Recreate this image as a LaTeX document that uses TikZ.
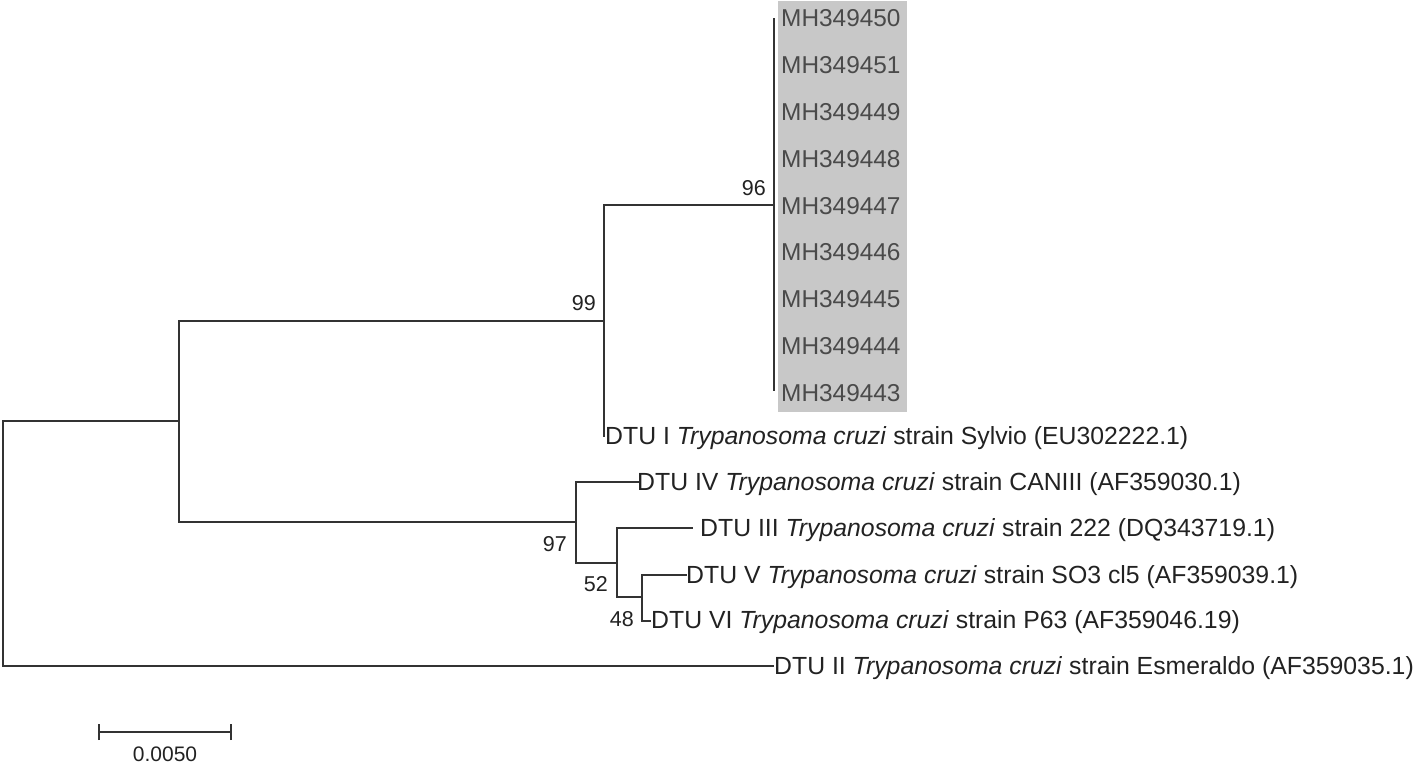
\documentclass[tikz,border=0pt]{standalone}
\usepackage{fontspec}
\setmainfont{Liberation Sans}
\definecolor{branch}{HTML}{333333}
\definecolor{labtext}{HTML}{222222}
\definecolor{mhtext}{HTML}{4A4A4A}
\definecolor{boxgray}{HTML}{C8C8C8}
\tikzset{
  br/.style={draw=branch, line width=2.5pt, line cap=rect},
  leaf/.style={anchor=base west, inner sep=0pt, text=labtext, font=\fontsize{24.8}{29}\selectfont},
  mh/.style={anchor=base west, inner sep=0pt, text=mhtext, font=\fontsize{24.4}{29}\selectfont},
  boot/.style={anchor=base east, inner sep=0pt, text=labtext, font=\fontsize{21.5}{26}\selectfont},
}
\begin{document}
\begin{tikzpicture}[x=1pt,y=-1pt]
\useasboundingbox (0,0) rectangle (1418,764);
% gray box
\fill[boxgray] (778,1) rectangle (907,412);
% internal nodes
\coordinate (R) at (3,543);
\coordinate (A) at (179,421);
\coordinate (B) at (604,321);
\coordinate (C) at (774,205);
\coordinate (D) at (576,522);
\coordinate (E) at (617,563);
\coordinate (F) at (642,597);
% leaf tips
\coordinate (tI) at (604,436);
\coordinate (tIV) at (638,482);
\coordinate (tIII) at (692,528);
\coordinate (tV) at (686,575);
\coordinate (tVI) at (650,621);
\coordinate (tII) at (773,666);
\coordinate (mtop) at (774,19);
\coordinate (mbot) at (774,390);
% MH labels
\foreach \n [count=\k from 0] in {MH349450,MH349451,MH349449,MH349448,MH349447,MH349446,MH349445,MH349444,MH349443}{
  \node[mh] (m\k) at (781,26.8+46.8*\k) {\n};
}
% leaf labels
\node[leaf] (lI) at (605,444) {DTU I \textit{Trypanosoma cruzi} strain Sylvio (EU302222.1)};
\node[leaf] (lIV) at (637,490) {DTU IV \textit{Trypanosoma cruzi} strain CANIII (AF359030.1)};
\node[leaf] (lIII) at (700,536) {DTU III \textit{Trypanosoma cruzi} strain 222 (DQ343719.1)};
\node[leaf] (lV) at (686,583) {DTU V \textit{Trypanosoma cruzi} strain SO3 cl5 (AF359039.1)};
\node[leaf] (lVI) at (651,628) {DTU VI \textit{Trypanosoma cruzi} strain P63 (AF359046.19)};
\node[leaf] (lII) at (774,674) {DTU II \textit{Trypanosoma cruzi} strain Esmeraldo (AF359035.1)};
% branches
\draw[br] (A) -| (R) |- (tII);
\draw[br] (B) -| (A) |- (D);
\draw[br] (C) -| (B) |- (tI);
\draw[br] (mtop) -- (mbot);
\draw[br] (tIV) -| (D) |- (E);
\draw[br] (tIII) -| (E) |- (F);
\draw[br] (tV) -| (F) |- (tVI);
% bootstrap values
\node[boot] (b96) at (766,195) {96};
\node[boot] (b99) at (596,310) {99};
\node[boot] (b97) at (567,551) {97};
\node[boot] (b52) at (608,591) {52};
\node[boot] (b48) at (634,626) {48};
% scale bar
\coordinate (s1) at (99,732);
\coordinate (s2) at (231,732);
\draw[br, line cap=butt] (s1) -- (s2);
\draw[br, line cap=butt] ([yshift=-8pt]s1) -- ([yshift=8pt]s1);
\draw[br, line cap=butt] ([yshift=-8pt]s2) -- ([yshift=8pt]s2);
\node[anchor=base, inner sep=0pt, text=labtext, font=\fontsize{21}{25}\selectfont] (sl) at (165,761) {0.0050};
\end{tikzpicture}
\end{document}
